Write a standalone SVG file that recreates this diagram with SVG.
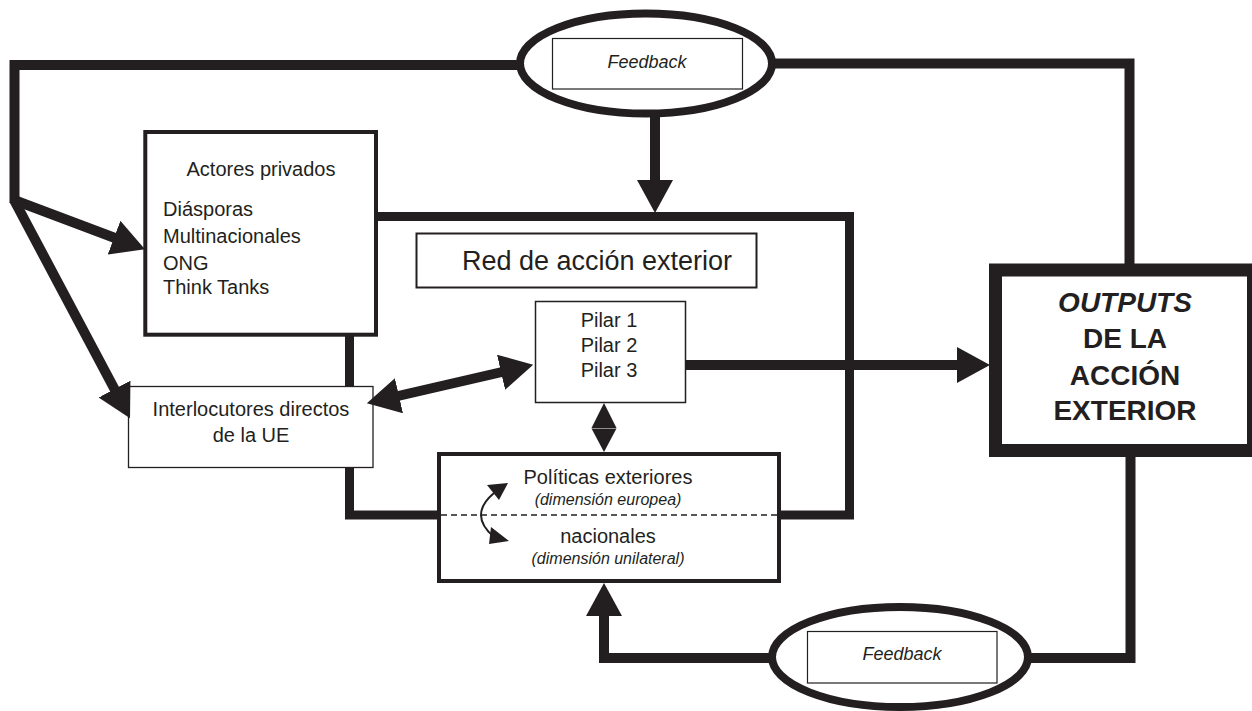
<svg xmlns="http://www.w3.org/2000/svg" width="1252" height="711" viewBox="0 0 1252 711">
  <style>
    .t { font-family: "Liberation Sans", Arial, sans-serif; fill: #231f20; }
    .c { text-anchor: middle; }
    .it { font-style: italic; }
    .thick { fill: none; stroke: #231f20; stroke-width: 9; stroke-linejoin: miter; }
    .conn { fill: none; stroke: #231f20; stroke-width: 10; }
    .box { fill: #ffffff; stroke: #231f20; }
  </style>
  <defs>
    <marker id="head" markerUnits="userSpaceOnUse" markerWidth="34" markerHeight="36" viewBox="0 0 34 36" refX="1" refY="18" orient="auto-start-reverse">
      <path d="M0,0 L33,18 L0,36 z" fill="#231f20"/>
    </marker>
  </defs>
  <rect width="1252" height="711" fill="#ffffff"/>

  <!-- outer frame of the external action network -->
  <g id="frame">
    <path class="thick" d="M376,216.5 H849.5 V515 H349.5 V334"/>
  </g>

  <!-- nodes -->
  <g id="actores">
    <rect class="box" x="145.3" y="132" width="230.7" height="202.7" stroke-width="4"/>
    <text class="t c" x="261" y="176" font-size="20">Actores privados</text>
    <text class="t" x="163" y="216" font-size="20">Diásporas</text>
    <text class="t" x="163" y="243" font-size="20">Multinacionales</text>
    <text class="t" x="163" y="270" font-size="20">ONG</text>
    <text class="t" x="163" y="294" font-size="20">Think Tanks</text>
  </g>

  <g id="red">
    <rect class="box" x="416.5" y="233.5" width="340" height="54" stroke-width="2"/>
    <text class="t c" x="597" y="270" font-size="27">Red de acción exterior</text>
  </g>

  <g id="pilares">
    <rect class="box" x="535.5" y="301.5" width="150" height="101" stroke-width="1.5"/>
    <text class="t c" x="609" y="327" font-size="20">Pilar 1</text>
    <text class="t c" x="609" y="352" font-size="20">Pilar 2</text>
    <text class="t c" x="609" y="377" font-size="20">Pilar 3</text>
  </g>

  <g id="interlocutores">
    <rect class="box" x="128.5" y="386.5" width="244.5" height="81" stroke-width="1.3"/>
    <text class="t c" x="251" y="416" font-size="20">Interlocutores directos</text>
    <text class="t c" x="251" y="442" font-size="20">de la UE</text>
  </g>

  <g id="politicas">
    <rect class="box" x="439" y="454" width="340" height="127" stroke-width="4"/>
    <line x1="441" y1="515" x2="777" y2="515" stroke="#231f20" stroke-width="1.5" stroke-dasharray="6 4"/>
    <text class="t c" x="608" y="484" font-size="20">Políticas exteriores</text>
    <text class="t c it" x="608" y="505" font-size="16">(dimensión europea)</text>
    <text class="t c" x="608" y="543" font-size="20">nacionales</text>
    <text class="t c it" x="608" y="564" font-size="16">(dimensión unilateral)</text>
    <!-- two-way exchange between both levels -->
    <path d="M494,493 Q468,515 494,537" fill="none" stroke="#231f20" stroke-width="2"/>
    <polygon points="487,485 508,483 499,500" fill="#231f20"/>
    <polygon points="491,527 509,541 489,544" fill="#231f20"/>
  </g>

  <g id="outputs">
    <rect class="box" x="995.5" y="270" width="258" height="180.5" stroke-width="13"/>
    <text class="t c" x="1125" y="312" font-size="28" font-weight="bold" font-style="italic">OUTPUTS</text>
    <text class="t c" x="1125" y="348" font-size="28" font-weight="bold">DE LA</text>
    <text class="t c" x="1125" y="385" font-size="28" font-weight="bold">ACCIÓN</text>
    <text class="t c" x="1125" y="420" font-size="28" font-weight="bold">EXTERIOR</text>
  </g>

  <g id="feedback-top">
    <ellipse cx="646" cy="63.5" rx="126" ry="50" fill="#ffffff" stroke="#231f20" stroke-width="8"/>
    <rect x="552.5" y="38.5" width="190" height="50.5" fill="#ffffff" stroke="#231f20" stroke-width="1.2"/>
    <text class="t c it" x="647" y="68" font-size="18">Feedback</text>
  </g>

  <g id="feedback-bottom">
    <ellipse cx="900" cy="657" rx="128" ry="50" fill="#ffffff" stroke="#231f20" stroke-width="8"/>
    <rect x="807.5" y="631.5" width="189.5" height="51.5" fill="#ffffff" stroke="#231f20" stroke-width="1.2"/>
    <text class="t c it" x="902" y="660" font-size="18">Feedback</text>
  </g>

  <!-- connectors -->
  <g id="connectors">
    <path class="conn" d="M518,65 H14.5 V203"/>
    <path class="conn" d="M774,63.5 H1129.5 V264"/>
    <path class="conn" d="M1028,658 H1130.5 V457"/>
    <path class="conn" d="M655,113 V181" marker-end="url(#head)"/>
    <path class="conn" d="M686,365 H958" marker-end="url(#head)"/>
    <path class="conn" d="M772,658 H604 V615" marker-end="url(#head)"/>
    <path class="conn" d="M14,200 L115,238" marker-end="url(#head)"/>
    <path class="conn" d="M14,200 L115,390" marker-end="url(#head)"/>
    <path class="conn" d="M398,396 L502,372" marker-start="url(#head)" marker-end="url(#head)"/>
    <polygon points="604,403 616.5,428 591.5,428" fill="#231f20"/>
    <polygon points="591.5,428.5 616.5,428.5 604,452" fill="#231f20"/>
  </g>
</svg>
